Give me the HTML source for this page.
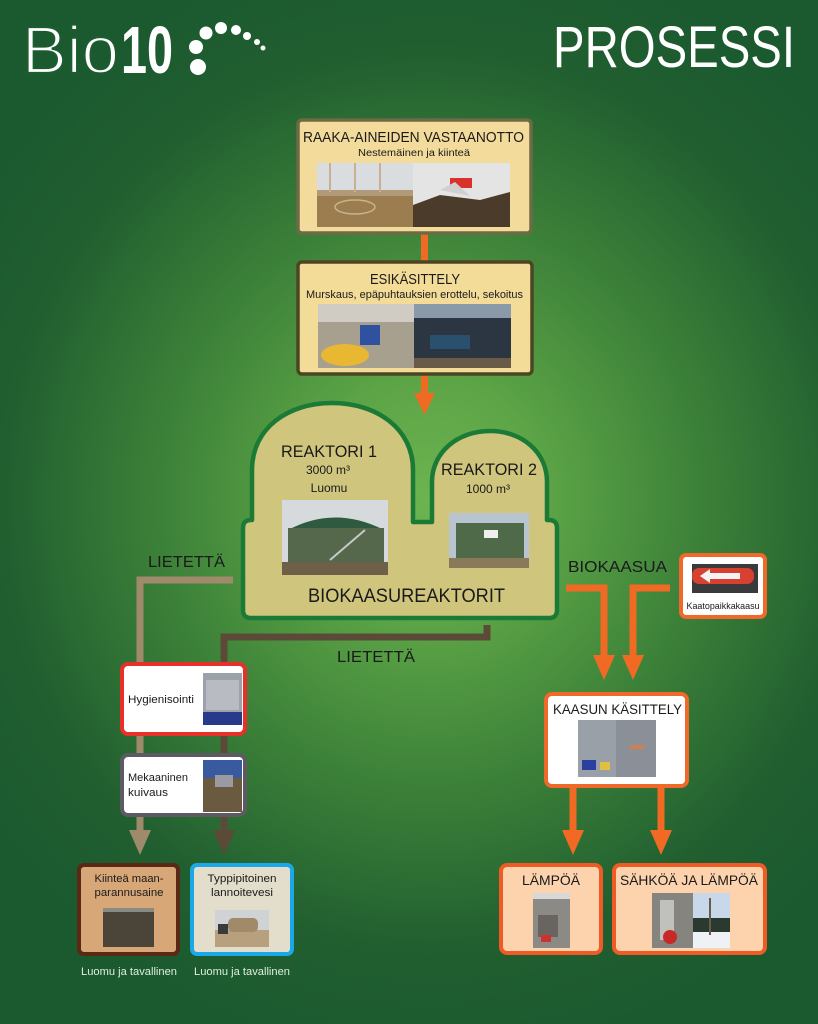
<!DOCTYPE html>
<html><head><meta charset="utf-8"><style>
html,body{margin:0;padding:0;}
body{width:818px;height:1024px;overflow:hidden;background:#1c5a2f;}
svg{display:block;}
text{font-family:"Liberation Sans",sans-serif;}
</style></head><body>
<svg width="818" height="1024" viewBox="0 0 818 1024" xmlns="http://www.w3.org/2000/svg">
<defs>
<radialGradient id="bg" cx="430" cy="500" r="560" gradientUnits="userSpaceOnUse" gradientTransform="translate(430 500) scale(0.95 1) translate(-430 -500)">
<stop offset="0" stop-color="#6cb450"/>
<stop offset="0.22" stop-color="#5ca446"/>
<stop offset="0.5" stop-color="#3d8239"/>
<stop offset="0.8" stop-color="#215f30"/>
<stop offset="1" stop-color="#1b5a2f"/>
</radialGradient>
</defs>
<rect width="818" height="1024" fill="url(#bg)"/>

<!-- Logo -->
<text x="22" y="73" font-size="67" fill="#fff" stroke="#1d5c30" stroke-width="2.2" textLength="97" lengthAdjust="spacingAndGlyphs">Bio</text>
<text x="121" y="73" font-size="67" font-weight="bold" fill="#fff" textLength="52" lengthAdjust="spacingAndGlyphs">10</text>
<g fill="#fff">
<circle cx="198" cy="67" r="8"/>
<circle cx="196" cy="47" r="7"/>
<circle cx="206" cy="33" r="6.5"/>
<circle cx="221" cy="28" r="6"/>
<circle cx="236" cy="30" r="5"/>
<circle cx="247" cy="36" r="4"/>
<circle cx="257" cy="42" r="3"/>
<circle cx="263" cy="48" r="2.5"/>
</g>
<text x="553" y="67" font-size="58" fill="#fff" textLength="242" lengthAdjust="spacingAndGlyphs">PROSESSI</text>

<!-- Arrow box1 -> box2 -->
<rect x="421" y="232" width="7" height="32" fill="#f06a24"/>
<!-- Arrow box2 -> reactor -->
<rect x="421" y="372" width="7" height="24" fill="#f06a24"/>
<polygon points="414,393 435,393 424.5,415" fill="#f06a24"/>

<!-- Box 1 -->
<rect x="298" y="120" width="233" height="113" rx="4" fill="#f3dc9b" stroke="#6e6a45" stroke-width="3.5"/>
<text x="303" y="142" font-size="15" fill="#1a1a1a" textLength="221" lengthAdjust="spacingAndGlyphs">RAAKA-AINEIDEN VASTAANOTTO</text>
<text x="358" y="156" font-size="10" fill="#1a1a1a" textLength="112" lengthAdjust="spacingAndGlyphs">Nestemäinen ja kiinteä</text>
<!-- photos box1 -->
<rect x="317" y="163" width="96" height="64" fill="#d9dde0"/>
<rect x="317" y="195" width="96" height="32" fill="#9b7d50"/>
<rect x="317" y="190" width="96" height="6" fill="#b09a78"/>
<line x1="330" y1="163" x2="330" y2="192" stroke="#c8b090" stroke-width="2"/>
<line x1="355" y1="163" x2="355" y2="192" stroke="#c8b090" stroke-width="2"/>
<line x1="380" y1="163" x2="380" y2="192" stroke="#c8b090" stroke-width="2"/>
<ellipse cx="355" cy="207" rx="20" ry="7" fill="none" stroke="#c8b490" stroke-width="1.5"/>
<rect x="413" y="163" width="97" height="64" fill="#e4e4e4"/>
<polygon points="413,227 413,205 440,195 480,200 510,192 510,227" fill="#4b3b2b"/>
<rect x="450" y="178" width="22" height="10" fill="#d8322a"/>
<polygon points="440,190 455,182 470,196" fill="#d0d0d0"/>

<!-- Box 2 -->
<rect x="298" y="262" width="234" height="112" rx="4" fill="#f3db98" stroke="#4c4524" stroke-width="3.5"/>
<text x="370" y="284" font-size="15" fill="#1a1a1a" textLength="90" lengthAdjust="spacingAndGlyphs">ESIKÄSITTELY</text>
<text x="306" y="298" font-size="11" fill="#1a1a1a" textLength="217" lengthAdjust="spacingAndGlyphs">Murskaus, epäpuhtauksien erottelu, sekoitus</text>
<rect x="318" y="304" width="96" height="64" fill="#a8a08e"/>
<rect x="318" y="304" width="96" height="18" fill="#d0ccc4"/>
<rect x="360" y="325" width="20" height="20" fill="#3050a0"/>
<ellipse cx="345" cy="355" rx="24" ry="11" fill="#e8b832"/>
<rect x="414" y="304" width="97" height="64" fill="#2c3642"/>
<rect x="414" y="304" width="97" height="14" fill="#8a9aa8"/>
<rect x="430" y="335" width="40" height="14" fill="#2a5070"/>
<rect x="414" y="358" width="97" height="10" fill="#6a5a48"/>

<!-- Reactor shape -->
<path d="M243,528 Q243,520 251,520 L252,520 L252,470 C252,428 288,403 332,403 C376,403 413,428 413,470 L413,522 L432,522 L432,482 C432,452 458,431 490,431 C522,431 547,452 547,482 L547,520 L549,520 Q557,520 557,528 L557,610 Q557,618 549,618 L251,618 Q243,618 243,610 Z" fill="#cfc57c" stroke="#1b7a36" stroke-width="4.5" stroke-linejoin="round"/>
<text x="281" y="457" font-size="17" fill="#1a1a1a" textLength="96" lengthAdjust="spacingAndGlyphs">REAKTORI 1</text>
<text x="328" y="474" font-size="12" fill="#1a1a1a" text-anchor="middle">3000 m³</text>
<text x="329" y="492" font-size="12" fill="#1a1a1a" text-anchor="middle">Luomu</text>
<text x="441" y="475" font-size="17" fill="#1a1a1a" textLength="96" lengthAdjust="spacingAndGlyphs">REAKTORI 2</text>
<text x="488" y="493" font-size="12" fill="#1a1a1a" text-anchor="middle">1000 m³</text>
<text x="308" y="602" font-size="19" fill="#1a1a1a" textLength="197" lengthAdjust="spacingAndGlyphs">BIOKAASUREAKTORIT</text>
<!-- reactor photo 1 -->
<rect x="282" y="500" width="106" height="75" fill="#d6dadd"/>
<path d="M288,530 Q335,505 384,530 Z" fill="#2f5a40"/>
<rect x="288" y="528" width="96" height="38" fill="#55684c"/>
<line x1="330" y1="560" x2="365" y2="530" stroke="#c8c8c8" stroke-width="2"/>
<rect x="282" y="562" width="106" height="13" fill="#6e6048"/>
<!-- reactor photo 2 -->
<rect x="449" y="513" width="80" height="55" fill="#b8c4d0"/>
<rect x="456" y="523" width="68" height="38" fill="#4f6a48"/>
<rect x="484" y="530" width="14" height="8" fill="#f0f0f0"/>
<rect x="449" y="558" width="80" height="10" fill="#8a7a5a"/>

<!-- LIETETTÄ labels -->
<text x="148" y="567" font-size="16" fill="#1a1a1a" textLength="77" lengthAdjust="spacingAndGlyphs">LIETETTÄ</text>
<text x="337" y="662" font-size="16" fill="#1a1a1a" textLength="78" lengthAdjust="spacingAndGlyphs">LIETETTÄ</text>

<!-- Tan line -->
<polyline points="233,580 140,580 140,833" fill="none" stroke="#a08a6c" stroke-width="7"/>
<polygon points="129,830 151,830 140,855" fill="#a08a6c"/>
<!-- Brown line -->
<polyline points="487,625 487,637 224,637 224,833" fill="none" stroke="#5c4a38" stroke-width="7"/>
<polygon points="213,830 235,830 224,855" fill="#5c4a38"/>

<!-- Hygienisointi -->
<rect x="122" y="664" width="123" height="70" rx="6" fill="#fff" stroke="#e8302a" stroke-width="4"/>
<text x="128" y="703" font-size="11" fill="#1a1a1a" textLength="66" lengthAdjust="spacingAndGlyphs">Hygienisointi</text>
<rect x="203" y="673" width="39" height="52" fill="#9ca2aa"/>
<rect x="206" y="680" width="33" height="30" fill="#b8bcc2"/>
<rect x="203" y="712" width="39" height="13" fill="#2a3a8a"/>

<!-- Mekaaninen kuivaus -->
<rect x="122" y="755" width="123" height="60" rx="6" fill="#fff" stroke="#5e5a64" stroke-width="4"/>
<text x="128" y="781" font-size="11" fill="#1a1a1a" textLength="60" lengthAdjust="spacingAndGlyphs">Mekaaninen</text>
<text x="128" y="796" font-size="11" fill="#1a1a1a" textLength="40" lengthAdjust="spacingAndGlyphs">kuivaus</text>
<rect x="203" y="760" width="39" height="52" fill="#6a5a40"/>
<rect x="203" y="760" width="39" height="18" fill="#3a5aa0"/>
<rect x="215" y="775" width="18" height="12" fill="#9a9aa0"/>

<!-- Kiinteä -->
<rect x="79" y="865" width="99" height="89" rx="5" fill="#d8a778" stroke="#5a2814" stroke-width="4"/>
<text x="129" y="882" font-size="11" fill="#1a1a1a" text-anchor="middle" textLength="69" lengthAdjust="spacingAndGlyphs">Kiinteä maan-</text>
<text x="129" y="896" font-size="11" fill="#1a1a1a" text-anchor="middle" textLength="69" lengthAdjust="spacingAndGlyphs">parannusaine</text>
<rect x="103" y="908" width="51" height="39" fill="#4a4538"/>
<rect x="103" y="908" width="51" height="4" fill="#8a8a80"/>

<!-- Typpipitoinen -->
<rect x="192" y="865" width="100" height="89" rx="5" fill="#e3ddcb" stroke="#1aa8e8" stroke-width="4"/>
<text x="242" y="882" font-size="11" fill="#1a1a1a" text-anchor="middle" textLength="69" lengthAdjust="spacingAndGlyphs">Typpipitoinen</text>
<text x="242" y="896" font-size="11" fill="#1a1a1a" text-anchor="middle" textLength="62" lengthAdjust="spacingAndGlyphs">lannoitevesi</text>
<rect x="215" y="910" width="54" height="37" fill="#cfd3d6"/>
<rect x="215" y="930" width="54" height="17" fill="#b89f7e"/>
<rect x="228" y="918" width="30" height="14" rx="5" fill="#a08a6a"/>
<rect x="218" y="924" width="10" height="10" fill="#3a3a3a"/>

<text x="129" y="975" font-size="11" fill="#dfeedd" text-anchor="middle" textLength="96" lengthAdjust="spacingAndGlyphs">Luomu ja tavallinen</text>
<text x="242" y="975" font-size="11" fill="#dfeedd" text-anchor="middle" textLength="96" lengthAdjust="spacingAndGlyphs">Luomu ja tavallinen</text>

<!-- BIOKAASUA -->
<text x="568" y="572" font-size="16" fill="#1a1a1a" textLength="99" lengthAdjust="spacingAndGlyphs">BIOKAASUA</text>
<polyline points="566,588 604,588 604,658" fill="none" stroke="#f06a24" stroke-width="7"/>
<polygon points="593,655 615,655 604,680" fill="#f06a24"/>
<polyline points="670,588 633,588 633,658" fill="none" stroke="#f06a24" stroke-width="7"/>
<polygon points="622,655 644,655 633,680" fill="#f06a24"/>

<!-- Kaatopaikkakaasu -->
<rect x="681" y="555" width="84" height="62" rx="5" fill="#fff" stroke="#f0682a" stroke-width="4"/>
<rect x="692" y="564" width="66" height="29" fill="#3a3a3c"/>
<rect x="692" y="568" width="62" height="16" rx="7" fill="#d84030"/>
<polygon points="700,576 710,569 710,573 740,573 740,579 710,579 710,583" fill="#f4f4f4"/>
<text x="723" y="609" font-size="9.5" fill="#1a1a1a" text-anchor="middle" textLength="73" lengthAdjust="spacingAndGlyphs">Kaatopaikkakaasu</text>

<!-- Kaasun käsittely -->
<rect x="546" y="694" width="141" height="92" rx="6" fill="#fff" stroke="#f0682a" stroke-width="4"/>
<text x="553" y="714" font-size="14" fill="#1a1a1a" textLength="129" lengthAdjust="spacingAndGlyphs">KAASUN KÄSITTELY</text>
<rect x="578" y="720" width="78" height="57" fill="#8a8f98"/>
<rect x="578" y="720" width="38" height="57" fill="#9aa0a8"/>
<rect x="582" y="760" width="14" height="10" fill="#2a40a0"/>
<rect x="600" y="762" width="10" height="8" fill="#e0c040"/>
<rect x="630" y="745" width="14" height="4" fill="#d08050"/>

<!-- lower orange arrows -->
<rect x="569.5" y="786" width="7" height="48" fill="#f06a24"/>
<polygon points="562,830 584,830 573,855" fill="#f06a24"/>
<rect x="657.5" y="786" width="7" height="48" fill="#f06a24"/>
<polygon points="650,830 672,830 661,855" fill="#f06a24"/>

<!-- LÄMPÖÄ -->
<rect x="501" y="865" width="100" height="88" rx="6" fill="#fdd3ae" stroke="#f05a24" stroke-width="4"/>
<text x="522" y="885" font-size="14" fill="#1a1a1a" textLength="58" lengthAdjust="spacingAndGlyphs">LÄMPÖÄ</text>
<rect x="533" y="893" width="37" height="55" fill="#8c8a84"/>
<rect x="533" y="893" width="37" height="6" fill="#d8d8d8"/>
<rect x="538" y="915" width="20" height="22" fill="#6a6460"/>
<rect x="541" y="935" width="10" height="7" fill="#d03030"/>

<!-- SÄHKÖÄ JA LÄMPÖÄ -->
<rect x="614" y="865" width="151" height="88" rx="6" fill="#fdd3ae" stroke="#f05a24" stroke-width="4"/>
<text x="620" y="885" font-size="14" fill="#1a1a1a" textLength="138" lengthAdjust="spacingAndGlyphs">SÄHKÖÄ JA LÄMPÖÄ</text>
<rect x="652" y="893" width="41" height="55" fill="#86847e"/>
<rect x="660" y="900" width="14" height="40" fill="#c0c0bc"/>
<circle cx="670" cy="937" r="7" fill="#c82828"/>
<rect x="693" y="893" width="37" height="55" fill="#c8d8ea"/>
<rect x="693" y="918" width="37" height="14" fill="#2a3a30"/>
<rect x="693" y="932" width="37" height="16" fill="#eef2f6"/>
<line x1="710" y1="898" x2="710" y2="935" stroke="#6a5a48" stroke-width="2"/>
</svg>
</body></html>
